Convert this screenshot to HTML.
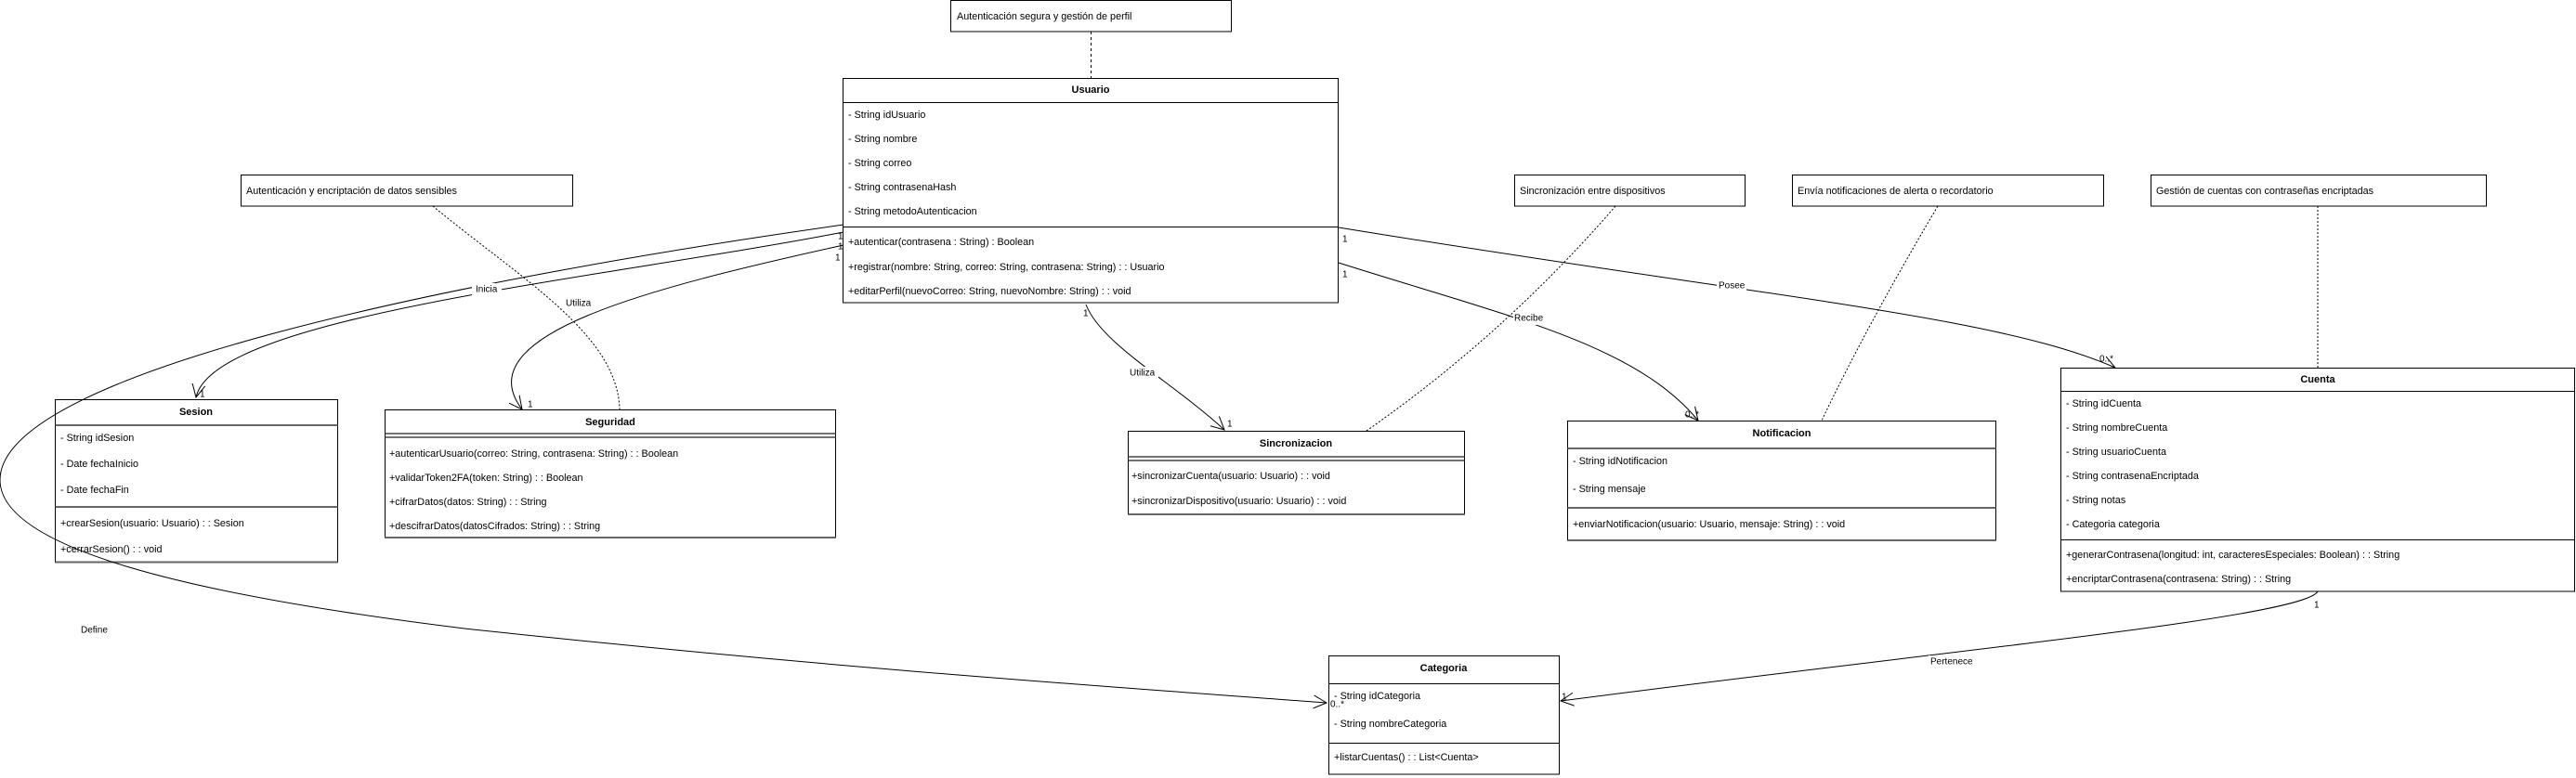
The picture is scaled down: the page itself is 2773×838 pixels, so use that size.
<!DOCTYPE html>
<html><head><meta charset="utf-8"><style>
html,body{margin:0;padding:0;background:#fff;}
svg{display:block;}
text{font-family:"Liberation Sans",Arial,sans-serif;font-size:10.8px;fill:#000;dominant-baseline:central;}
.b{font-weight:bold;text-anchor:middle;font-size:11px;}
.l{font-size:10px;}
</style></head><body>
<svg width="2773" height="838" viewBox="0 0 2773 838" xmlns="http://www.w3.org/2000/svg">
<defs>
<marker id="a" markerUnits="userSpaceOnUse" markerWidth="16" markerHeight="16" refX="14" refY="8" orient="auto">
<path d="M0,1 L14,8 L0,15" fill="none" stroke="#000" stroke-width="1"/>
</marker>
</defs>
<!-- notes -->
<g fill="#fff" stroke="#000">
<rect x="1023.5" y="0.5" width="302" height="33.5"/>
<rect x="259.5" y="188.5" width="357" height="33.5"/>
<rect x="1630.5" y="188.5" width="248" height="33.5"/>
<rect x="1929.5" y="188.5" width="335" height="33.5"/>
<rect x="2315.5" y="188.5" width="361" height="33.5"/>
</g>
<text x="1030" y="18">Autenticación segura y gestión de perfil</text>
<text x="265" y="206">Autenticación y encriptación de datos sensibles</text>
<text x="1636" y="206">Sincronización entre dispositivos</text>
<text x="1935" y="206">Envía notificaciones de alerta o recordatorio</text>
<text x="2321" y="206">Gestión de cuentas con contraseñas encriptadas</text>

<!-- Usuario -->
<rect x="907.5" y="84.5" width="533" height="241.5" fill="#fff" stroke="#000"/>
<line x1="907.5" y1="110.5" x2="1440.5" y2="110.5" stroke="#000"/>
<line x1="907.5" y1="244.5" x2="1440.5" y2="244.5" stroke="#000"/>
<text x="1174" y="97" class="b">Usuario</text>
<text x="913" y="124">- String idUsuario</text>
<text x="913" y="150">- String nombre</text>
<text x="913" y="176">- String correo</text>
<text x="913" y="202">- String contrasenaHash</text>
<text x="913" y="228">- String metodoAutenticacion</text>
<text x="913" y="261">+autenticar(contrasena : String) : Boolean</text>
<text x="913" y="288">+registrar(nombre: String, correo: String, contrasena: String) : : Usuario</text>
<text x="913" y="314">+editarPerfil(nuevoCorreo: String, nuevoNombre: String) : : void</text>

<!-- Sesion -->
<rect x="59.5" y="430.5" width="304" height="175" fill="#fff" stroke="#000"/>
<line x1="59.5" y1="458" x2="363.5" y2="458" stroke="#666" stroke-width="2"/>
<line x1="59.5" y1="546" x2="363.5" y2="546" stroke="#666" stroke-width="2"/>
<line x1="59.5" y1="605.5" x2="363.5" y2="605.5" stroke="#666" stroke-width="2"/>
<text x="211" y="444" class="b">Sesion</text>
<text x="65" y="472">- String idSesion</text>
<text x="65" y="500">- Date fechaInicio</text>
<text x="65" y="528">- Date fechaFin</text>
<text x="65" y="564">+crearSesion(usuario: Usuario) : : Sesion</text>
<text x="65" y="592">+cerrarSesion() : : void</text>

<!-- Seguridad -->
<rect x="414.5" y="441.5" width="485" height="137.5" fill="#fff" stroke="#000"/>
<line x1="414.5" y1="467" x2="899.5" y2="467" stroke="#444" stroke-width="1.5"/>
<line x1="414.5" y1="471" x2="899.5" y2="471" stroke="#444" stroke-width="1.5"/>
<line x1="414.5" y1="579" x2="899.5" y2="579" stroke="#666" stroke-width="2"/>
<text x="657" y="455" class="b">Seguridad</text>
<text x="419" y="489">+autenticarUsuario(correo: String, contrasena: String) : : Boolean</text>
<text x="419" y="515">+validarToken2FA(token: String) : : Boolean</text>
<text x="419" y="541">+cifrarDatos(datos: String) : : String</text>
<text x="419" y="567">+descifrarDatos(datosCifrados: String) : : String</text>

<!-- Sincronizacion -->
<rect x="1214.5" y="464.5" width="362" height="89.5" fill="#fff" stroke="#000"/>
<line x1="1214.5" y1="492" x2="1576.5" y2="492" stroke="#444" stroke-width="1.5"/>
<line x1="1214.5" y1="496" x2="1576.5" y2="496" stroke="#444" stroke-width="1.5"/>
<line x1="1214.5" y1="554" x2="1576.5" y2="554" stroke="#666" stroke-width="2"/>
<text x="1395" y="478" class="b">Sincronizacion</text>
<text x="1218" y="513">+sincronizarCuenta(usuario: Usuario) : : void</text>
<text x="1218" y="540">+sincronizarDispositivo(usuario: Usuario) : : void</text>

<!-- Notificacion -->
<rect x="1687.5" y="453.5" width="461" height="128.5" fill="#fff" stroke="#000"/>
<line x1="1687.5" y1="483" x2="2148.5" y2="483" stroke="#666" stroke-width="2"/>
<line x1="1687.5" y1="547" x2="2148.5" y2="547" stroke="#666" stroke-width="2"/>
<line x1="1687.5" y1="582" x2="2148.5" y2="582" stroke="#666" stroke-width="2"/>
<text x="1918" y="467" class="b">Notificacion</text>
<text x="1693" y="497">- String idNotificacion</text>
<text x="1693" y="527">- String mensaje</text>
<text x="1693" y="565">+enviarNotificacion(usuario: Usuario, mensaje: String) : : void</text>

<!-- Cuenta -->
<rect x="2218.5" y="396.5" width="553" height="240.5" fill="#fff" stroke="#000"/>
<line x1="2218.5" y1="421.5" x2="2771.5" y2="421.5" stroke="#000"/>
<line x1="2218.5" y1="581.5" x2="2771.5" y2="581.5" stroke="#000"/>
<text x="2495" y="409" class="b">Cuenta</text>
<text x="2224" y="435">- String idCuenta</text>
<text x="2224" y="461">- String nombreCuenta</text>
<text x="2224" y="487">- String usuarioCuenta</text>
<text x="2224" y="513">- String contrasenaEncriptada</text>
<text x="2224" y="539">- String notas</text>
<text x="2224" y="565">- Categoria categoria</text>
<text x="2224" y="598">+generarContrasena(longitud: int, caracteresEspeciales: Boolean) : : String</text>
<text x="2224" y="624">+encriptarContrasena(contrasena: String) : : String</text>

<!-- Categoria -->
<rect x="1430.5" y="706.5" width="248" height="127.5" fill="#fff" stroke="#000"/>
<line x1="1430.5" y1="736.5" x2="1678.5" y2="736.5" stroke="#000"/>
<line x1="1430.5" y1="800.5" x2="1678.5" y2="800.5" stroke="#000"/>
<text x="1554" y="720" class="b">Categoria</text>
<text x="1436" y="750">- String idCategoria</text>
<text x="1436" y="780">- String nombreCategoria</text>
<text x="1436" y="816">+listarCuentas() : : List&lt;Cuenta&gt;</text>

<g fill="none" stroke="#000" stroke-width="1">
<!-- dotted note links -->
<path d="M1174.5,34 L1174.5,84" stroke-dasharray="3,3"/>
<path d="M466,222 C560,300 665,360 667,441" stroke-dasharray="2,2"/>
<path d="M1739,222 Q1620,360 1471,464" stroke-dasharray="2,2"/>
<path d="M2086,222 Q2010,350 1961,453" stroke-dasharray="2,2"/>
<path d="M2495,222 L2495,396" stroke-dasharray="2,2"/>
<!-- associations -->
<path d="M908,242 C500,300 0,400 0,517 C0,590 200,640 500,677 C900,720 1200,740 1428,757" marker-end="url(#a)"/>
<path d="M908,250 C650,300 230,340 211,428" marker-end="url(#a)"/>
<path d="M908,264 C700,310 500,360 562,441" marker-end="url(#a)"/>
<path d="M1169,328 C1185,370 1260,410 1318,463" marker-end="url(#a)"/>
<path d="M1441,283 C1620,340 1760,370 1828,453" marker-end="url(#a)"/>
<path d="M1441,245 C1900,320 2150,340 2277,396" marker-end="url(#a)"/>
<path d="M2495,637 C2480,665 2100,700 1680,755" marker-end="url(#a)"/>
</g>
<!-- labels -->
<g>
<rect x="508" y="305" width="32" height="14" fill="#fff"/><text x="512" y="312" class="l">Inicia</text>
<rect x="608" y="320" width="32" height="14" fill="#fff"/><text x="609" y="327" class="l">Utiliza</text>
<rect x="1215" y="395" width="32" height="14" fill="#fff"/><text x="1216" y="402" class="l">Utiliza</text>
<rect x="1629" y="336" width="34" height="14" fill="#fff"/><text x="1630" y="343" class="l">Recibe</text>
<rect x="1848" y="301" width="32" height="14" fill="#fff"/><text x="1850" y="308" class="l">Posee</text>
<rect x="2076" y="706" width="50" height="14" fill="#fff"/><text x="2078" y="713" class="l">Pertenece</text>
<text x="87" y="679" class="l">Define</text>
<text x="902" y="255" class="l">1</text><text x="902" y="266" class="l">1</text><text x="899" y="278" class="l">1</text>
<text x="215" y="425" class="l">1</text><text x="568" y="436" class="l">1</text>
<text x="1166" y="338" class="l">1</text><text x="1321" y="457" class="l">1</text>
<text x="1445" y="258" class="l">1</text><text x="1445" y="296" class="l">1</text>
<text x="1814" y="447" class="l">0..*</text><text x="2260" y="387" class="l">0..*</text>
<text x="2491" y="652" class="l">1</text>
<text x="1432" y="759" class="l">0..*</text><text x="1681" y="751" class="l">1</text>
</g>
</svg>
</body></html>
